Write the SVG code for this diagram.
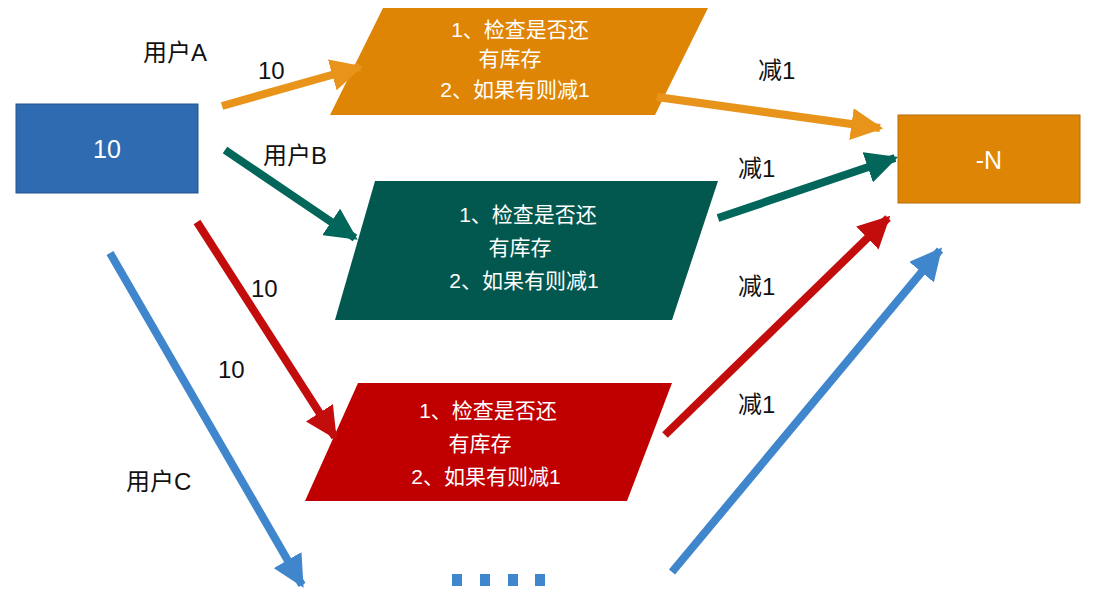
<svg xmlns="http://www.w3.org/2000/svg" width="1095" height="612" viewBox="0 0 1095 612">
<style>
text{font-family:"Liberation Sans","Noto Sans CJK SC",sans-serif;font-size:24px;fill:#111}
.w{fill:#fff;font-size:21px;text-anchor:middle}
.b{font-size:25px}
.c line{stroke-width:8}
</style>
<defs>
<marker id="mo" viewBox="0 0 10 10" refX="9" refY="5" markerWidth="4" markerHeight="4" orient="auto" markerUnits="strokeWidth"><path d="M0,0L10,5L0,10z" fill="#e8931a"/></marker>
<marker id="mt" viewBox="0 0 10 10" refX="9" refY="5" markerWidth="4" markerHeight="4" orient="auto" markerUnits="strokeWidth"><path d="M0,0L10,5L0,10z" fill="#02665a"/></marker>
<marker id="mr" viewBox="0 0 10 10" refX="9" refY="5" markerWidth="4" markerHeight="4" orient="auto" markerUnits="strokeWidth"><path d="M0,0L10,5L0,10z" fill="#c30d0d"/></marker>
<marker id="mb" viewBox="0 0 10 10" refX="9" refY="5" markerWidth="4" markerHeight="4" orient="auto" markerUnits="strokeWidth"><path d="M0,0L10,5L0,10z" fill="#3f86cc"/></marker>
</defs>
<rect width="1095" height="612" fill="#fff"/>
<g id="src"><rect x="16" y="104" width="182" height="89" fill="#2e6bb0" stroke="#24558d"/><text class="w b" x="107" y="158">10</text></g>
<g id="dst"><rect x="898" y="115" width="182" height="88" fill="#df8505" stroke="#b86d04"/><text class="w b" x="989" y="169">-N</text></g>
<g id="pA"><polygon points="383,8 708,8 655,115 330,115" fill="#df8505"/>
<text class="w" x="520" y="37">1、检查是否还</text><text class="w" x="510" y="66">有库存</text><text class="w" x="515" y="97">2、如果有则减1</text></g>
<g id="pB"><polygon points="375,181 718,181 672,320 335,320" fill="#02584f"/>
<text class="w" x="528" y="222">1、检查是否还</text><text class="w" x="520" y="255">有库存</text><text class="w" x="524" y="288">2、如果有则减1</text></g>
<g id="pC"><polygon points="358,383 672,383 627,501 305,501" fill="#c00000"/>
<text class="w" x="488" y="418">1、检查是否还</text><text class="w" x="480" y="451">有库存</text><text class="w" x="486" y="484">2、如果有则减1</text></g>
<g class="c" id="connectors">
<line x1="222" y1="106" x2="360" y2="67" stroke="#e8931a" marker-end="url(#mo)"/>
<line x1="657" y1="97" x2="880" y2="128" stroke="#e8931a" marker-end="url(#mo)"/>
<line x1="225" y1="150" x2="355" y2="238" stroke="#02665a" marker-end="url(#mt)"/>
<line x1="718" y1="218" x2="895" y2="158" stroke="#02665a" marker-end="url(#mt)"/>
<line x1="197" y1="222" x2="335" y2="437" stroke="#c30d0d" marker-end="url(#mr)"/>
<line x1="665" y1="435" x2="888" y2="218" stroke="#c30d0d" marker-end="url(#mr)"/>
<line x1="110" y1="253" x2="302" y2="585" stroke="#3f86cc" marker-end="url(#mb)"/>
<line x1="672" y1="572" x2="940" y2="250" stroke="#3f86cc" marker-end="url(#mb)"/>
</g>
<g fill="#3f86cc"><rect x="452" y="574" width="10" height="12"/><rect x="480" y="574" width="10" height="12"/><rect x="508" y="574" width="10" height="12"/><rect x="535" y="574" width="10" height="12"/></g>
<text x="143" y="61">用户A</text><text x="258" y="79">10</text>
<text x="263" y="164">用户B</text><text x="251" y="297">10</text><text x="218" y="378">10</text>
<text x="126" y="490">用户C</text>
<text x="758" y="79">减1</text><text x="738" y="177">减1</text><text x="738" y="295">减1</text><text x="738" y="413">减1</text>
</svg>
